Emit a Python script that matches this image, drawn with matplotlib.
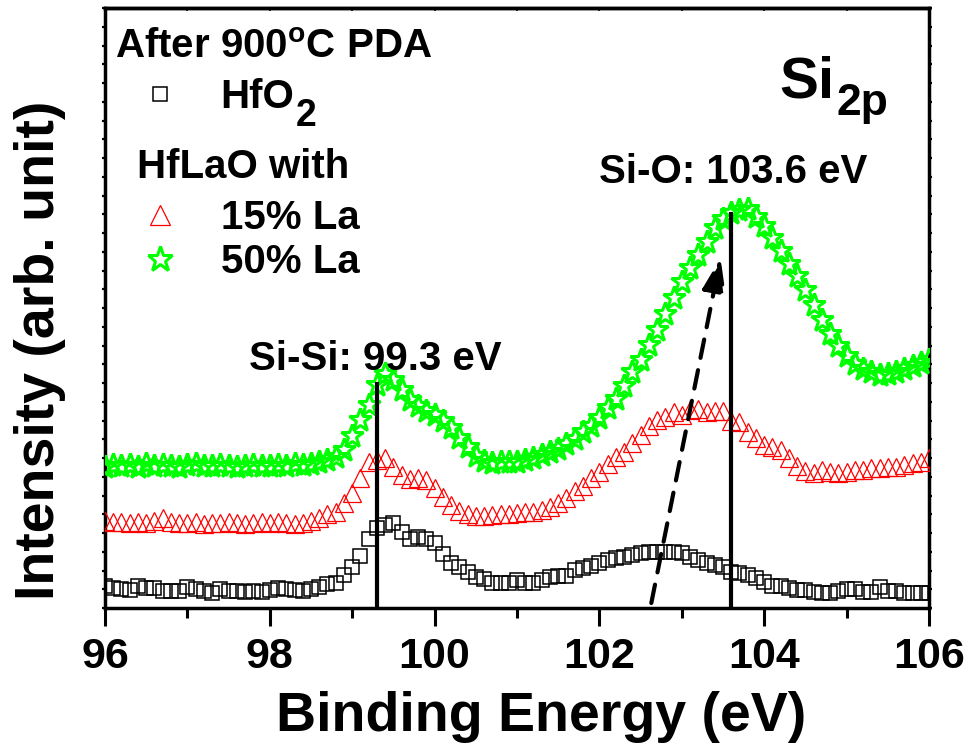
import numpy as np
import matplotlib
matplotlib.use('Agg')
import matplotlib.pyplot as plt
from matplotlib.ticker import MultipleLocator, NullFormatter
from matplotlib.lines import Line2D

plt.rcParams['font.family'] = ['Liberation Sans', 'DejaVu Sans']
plt.rcParams['font.weight'] = 'bold'
plt.rcParams['mathtext.fontset'] = 'custom'
plt.rcParams['mathtext.rm'] = 'Liberation Sans:bold'
plt.rcParams['mathtext.bf'] = 'Liberation Sans:bold'
plt.rcParams['mathtext.it'] = 'Liberation Sans:bold'

# ---------------- data ----------------
energy = np.round(np.arange(96.0, 106.0001, 0.1), 1)

hfo2 = [22, 20, 19, 18, 22, 20, 20, 17, 17, 17,
        21, 19, 17, 15, 19, 17, 17, 16, 17, 16,
        18, 20, 19, 18, 17, 19, 21, 24, 25, 33,
        41, 52, 69, 80, 83, 85, 76, 69, 71, 69,
        65, 54, 45, 41, 36, 31, 29, 25, 25, 25,
        28, 25, 25, 28, 31, 32, 32, 38, 40, 42,
        45, 48, 50, 51, 53, 55, 56, 56, 56, 56,
        55, 51, 48, 45, 43, 41, 36, 35, 33, 30,
        26, 22, 22, 20, 18, 18, 16, 15, 15, 17,
        19, 19, 16, 16, 21, 17, 17, 15, 15, 15,
        15]

la15 = [87, 86, 86, 85, 86, 85, 87, 90, 86, 85,
        85, 86, 84, 85, 85, 86, 85, 84, 85, 86,
        85, 86, 85, 84, 85, 87, 90, 94, 96, 105,
        115, 130, 146, 148, 150, 141, 133, 129, 130, 128,
        120, 111, 103, 97, 94, 92, 92, 93, 94, 94,
        95, 96, 96, 98, 101, 105, 110, 117, 122, 130,
        136, 144, 151, 156, 165, 173, 182, 188, 191, 196,
        193, 198, 199, 196, 197, 197, 187, 186, 176, 170,
        163, 161, 158, 150, 142, 137, 135, 138, 136, 135,
        136, 138, 138, 140, 140, 141, 141, 143, 145, 146,
        150]

la50 = [141, 143, 142, 143, 141, 144, 142, 143, 142, 141,
        143, 144, 142, 142, 143, 142, 141, 142, 143, 142,
        142, 143, 142, 144, 143, 144, 146, 148, 151, 158,
        172, 188, 203, 223, 234, 228, 218, 208, 202, 197,
        193, 187, 180, 170, 161, 152, 147, 145, 146, 146,
        146, 148, 150, 153, 156, 159, 164, 169, 176, 182,
        190, 200, 209, 222, 236, 248, 263, 278, 294, 310,
        326, 340, 353, 366, 380, 389, 395, 398, 399, 391,
        382, 370, 357, 344, 332, 318, 303, 288, 274, 262,
        252, 244, 239, 236, 233, 234, 236, 239, 242, 245,
        248]

series_labels = ['HfO', '15% La', '50% La']
xticks = [96, 98, 100, 102, 104, 106]

SI_SI = 99.3
SI_O = 103.6

# ---------------- figure ----------------
fig = plt.figure(figsize=(9.72, 7.51), dpi=100)
ax = fig.add_axes([105 / 972, 143 / 751, 824 / 972, 600 / 751])

sq_kw = dict(ls='none', marker='s', ms=9.5, mfc='none', mec='black', mew=1.1)
tr_kw = dict(ls='none', marker='^', ms=12.5, mfc='none', mec='#ff0000', mew=0.9)
st_kw = dict(ls='none', marker='*', ms=17, mfc='none', mec='#00ff00', mew=2.2)

ax.plot(energy, hfo2, **sq_kw, zorder=3)
ax.plot(energy, la15, **tr_kw, zorder=3)
ax.plot(energy, la50, **st_kw, zorder=3)

# reference lines
ax.vlines([SI_SI], 0, 226, color='black', lw=3, zorder=5)
ax.vlines([SI_O], 0, 396, color='black', lw=3, zorder=5)

# dashed arrow
ax.annotate('', xy=(103.47, 350), xytext=(102.63, 5),
            arrowprops=dict(arrowstyle='-|>,head_length=1.0,head_width=0.35',
                            lw=3, ls=(0, (4.5, 3)), color='black',
                            shrinkA=0, shrinkB=0, mutation_scale=20),
            zorder=6)

ax.set_xlim(96, 106)
ax.set_ylim(0, 600)
ax.set_xticks(xticks)
ax.xaxis.set_minor_locator(MultipleLocator(1))
ax.tick_params(axis='x', which='major', direction='out', length=13, width=2.2,
               labelsize=31, pad=8)
ax.tick_params(axis='x', which='minor', direction='out', length=7, width=2.2)
ax.yaxis.set_major_locator(MultipleLocator(18.75))
ax.yaxis.set_major_formatter(NullFormatter())
ax.tick_params(axis='y', which='major', direction='out', length=2, width=1.6,
               left=True, right=True)
for lab in ax.get_xticklabels():
    lab.set_fontweight('bold')

top = ax.secondary_xaxis('top')
top.set_xticks(list(range(96, 107)))
top.tick_params(direction='in', length=2, width=1.2, labeltop=False)
top.spines['top'].set_linewidth(2.5)

for sp in ax.spines.values():
    sp.set_linewidth(2.5)

ax.set_xlabel('Binding Energy (eV)', fontsize=40, fontweight='bold')
ax.xaxis.set_label_coords(0.529, -0.138)
ax.set_ylabel('Intensity (arb. unit)', fontsize=40, fontweight='bold')
ax.yaxis.set_label_coords(-0.047, 0.43)

# legend
h1 = Line2D([], [], **sq_kw)
h2 = Line2D([], [], **tr_kw)
h3 = Line2D([], [], **st_kw)
leg_kw = dict(loc='center left', frameon=False, borderpad=0, borderaxespad=0,
              handlelength=1.0, handletextpad=1.0, markerscale=1.1,
              prop={'size': 29, 'weight': 'bold'})
leg1 = ax.legend(handles=[h1], labels=[series_labels[0]],
                 bbox_to_anchor=((140 - 105) / 824, (608 - 97) / 600), **leg_kw)
ax.add_artist(leg1)
leg2 = ax.legend(handles=[h2, h3], labels=series_labels[1:], labelspacing=0.15,
                 bbox_to_anchor=((140 - 105) / 824, (608 - 240) / 600), **leg_kw)

ax.annotate('2', xy=(1, 0), xycoords=leg1.get_texts()[0], xytext=(1, -7),
            textcoords='offset points', fontsize=27, fontweight='bold',
            ha='left', va='baseline', zorder=20)

ax.text(96.12, 550, r'After 900$^{\mathbf{o}}$C PDA', fontsize=29,
        fontweight='bold', va='baseline')
ax.text(96.39, 430, 'HfLaO with', fontsize=29, fontweight='bold', va='baseline')
ax.text(99.28, 238, 'Si-Si: 99.3 eV', fontsize=29, fontweight='bold',
        ha='center', va='baseline')
ax.text(103.62, 425, 'Si-O: 103.6 eV', fontsize=29, fontweight='bold',
        ha='center', va='baseline')
si = ax.text(104.19, 511, 'Si', fontsize=42, fontweight='bold', va='baseline')
ax.annotate('2p', xy=(1, 0), xycoords=si, xytext=(1, -4),
            textcoords='offset points', fontsize=32, fontweight='bold',
            ha='left', va='baseline', zorder=20)

fig.savefig('out.png', dpi=100)
